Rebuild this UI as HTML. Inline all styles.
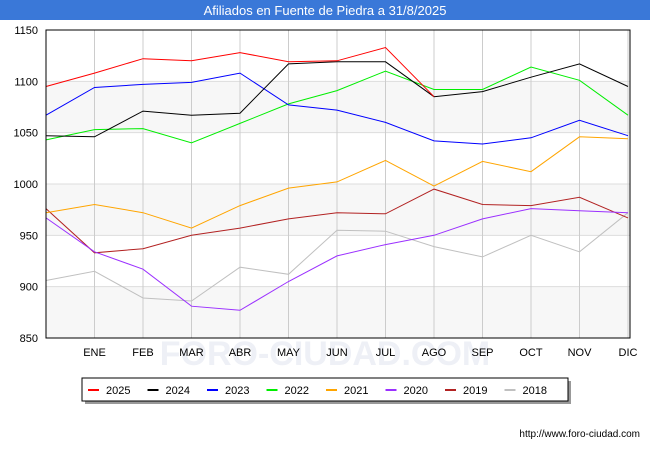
<!DOCTYPE html>
<html><head><meta charset="utf-8"><style>
body{margin:0;width:650px;height:450px;background:#fff;font-family:"Liberation Sans",sans-serif;overflow:hidden}
</style></head><body>
<svg width="650" height="450" xmlns="http://www.w3.org/2000/svg" font-family="Liberation Sans, sans-serif">
<rect x="0" y="0" width="650" height="20" fill="#3a78d8"/>
<text x="325" y="15" text-anchor="middle" fill="#fff" font-size="13">Afiliados en Fuente de Piedra a 31/8/2025</text>
<g id="grid"></g>
<text x="325" y="365" text-anchor="middle" font-size="34" fill="#eef0f6" font-weight="bold">FORO-CIUDAD.COM</text>
<g id="series"></g>
<rect x="46" y="30" width="584" height="308" fill="none" stroke="#000" stroke-width="1"/>
<g id="axes" font-size="11"></g>
<rect x="85" y="381" width="486" height="23" fill="#999"/>
<rect x="82" y="378" width="486" height="23" fill="#fff" stroke="#000"/>
<g id="legend" font-size="11"></g>
<text x="640" y="437" text-anchor="end" font-size="10">http://www.foro-ciudad.com</text>
</svg>
<script>
const months=["","ENE","FEB","MAR","ABR","MAY","JUN","JUL","AGO","SEP","OCT","NOV","DIC"];
const yTicks=[850,900,950,1000,1050,1100,1150];
const seriesNames=["2025","2024","2023","2022","2021","2020","2019","2018"];
const seriesColors=["#ff0000","#000000","#0000ff","#00ee00","#ffa500","#9b30ff","#b22222","#c0c0c0"];
const s2025=[1095,1108,1122,1120,1128,1119,1120,1133,1085];
const s2024=[1047,1046,1071,1067,1069,1117,1119,1119,1085,1090,1104,1117,1095];
const s2023=[1067,1094,1097,1099,1108,1077,1072,1060,1042,1039,1045,1062,1047];
const s2022=[1043,1053,1054,1040,1059,1078,1091,1110,1092,1092,1114,1101,1067];
const s2021=[972,980,972,957,979,996,1002,1023,998,1022,1012,1046,1044];
const s2020=[967,934,917,881,877,905,930,941,950,966,976,974,972];
const s2019=[976,933,937,950,957,966,972,971,995,980,979,987,967];
const s2018=[906,915,889,886,919,912,955,954,939,929,950,934,972];
const allSeries=[s2025,s2024,s2023,s2022,s2021,s2020,s2019,s2018];
const NS="http://www.w3.org/2000/svg";
const X0=46,X1=628,Y0=338,Y1=30,YMIN=850,YMAX=1150;
const xs=i=>X0+(X1-X0)*i/12;
const ys=v=>Y0-(v-YMIN)/(YMAX-YMIN)*(Y0-Y1);
function mk(t,a,p){const e=document.createElementNS(NS,t);for(const k in a)e.setAttribute(k,a[k]);p.appendChild(e);return e;}
const grid=document.getElementById('grid');
for(let i=0;i<yTicks.length-1;i+=2){
 const r=mk('rect',{x:46,y:ys(yTicks[i+1]),width:584,height:ys(yTicks[i])-ys(yTicks[i+1]),fill:'#f7f7f7'},grid);
 
 
}
const axes=document.getElementById('axes');
yTicks.forEach(v=>{
 const l=mk('line',{x1:46,x2:630,y1:ys(v),y2:ys(v),stroke:'#ddd'},grid);
 
 
 const t=mk('text',{x:38,y:ys(v)+4,'text-anchor':'end'},axes);t.textContent=v;
 
 
});
months.forEach((m,i)=>{
 if(i===0)return;
 const l=mk('line',{x1:xs(i),x2:xs(i),y1:30,y2:338,stroke:'#ccc'},grid);
 
 
 const t=mk('text',{x:xs(i),y:356,'text-anchor':'middle'},axes);t.textContent=m;
 
 
});
const sg=document.getElementById('series');
for(let k=allSeries.length-1;k>=0;k--){
 const d=allSeries[k].map((v,i)=>xs(i).toFixed(1)+','+ys(v).toFixed(1)).join(' ');
 const p=mk('polyline',{points:d,fill:'none',stroke:seriesColors[k],'stroke-width':1},sg);
 
 
}
const lg=document.getElementById('legend');
seriesNames.forEach((n,k)=>{
 const x=88+k*59.5;
 const l=mk('line',{x1:x,x2:x+11,y1:390,y2:390,stroke:seriesColors[k],'stroke-width':2},lg);
 
 
 const t=mk('text',{x:x+18,y:394},lg);t.textContent=n;
 
 
});
</script>
</body></html>
